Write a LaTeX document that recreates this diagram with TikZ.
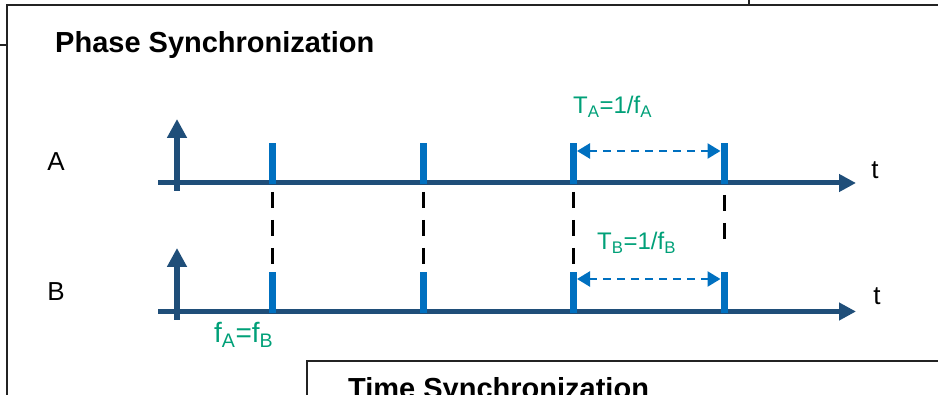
\documentclass[tikz,border=0pt]{standalone}
\usepackage{fontspec}
\setmainfont{Liberation Sans}
\usetikzlibrary{arrows.meta}
\definecolor{axBlue}{RGB}{31,78,121}
\definecolor{pkBlue}{RGB}{0,112,192}
\definecolor{lbGreen}{RGB}{0,160,120}
\definecolor{frGray}{RGB}{35,35,35}
\tikzset{
    frame/.style={draw=frGray, line width=2pt},
    heading/.style={font=\fontsize{29}{34}\selectfont\bfseries, anchor=base west, inner sep=0pt},
    signame/.style={font=\fontsize{26}{30}\selectfont, inner sep=0pt},
    eqn/.style={text=lbGreen, font=\fontsize{24}{28}\selectfont, anchor=base west, inner sep=0pt},
    timeaxis/.style={draw=axBlue, line width=5pt, -{Triangle[length=17pt,width=17pt]}},
    valaxis/.style={draw=axBlue, line width=6pt, -{Triangle[length=19pt,width=19pt]}},
    pulse/.style={draw=pkBlue, line width=7pt},
    period/.style={draw=pkBlue, line width=2.5pt, dash pattern=on 8pt off 6pt,
                   {Triangle[length=13pt,width=15pt]}-{Triangle[length=13pt,width=15pt]}},
    match/.style={draw=black, line width=3pt, dash pattern=on 16pt off 12pt}
}

\begin{document}
\begin{tikzpicture}[x=1pt,y=-1pt]
  \useasboundingbox (0,0) rectangle (938,395);
  \clip (0,0) rectangle (938,395);

  % Frames
  \draw[frame] (749,0) -- (749,5);
  \draw[frame] (938,5) -- (7,5) -- (7,395);
  \draw[frame] (0,45) -- (7,45);
  \draw[frame, line width=2.5pt] (307,395) -- (307,361) -- (938,361);

  % Headings
  \node[heading] (phase) at (55,53) {Phase Synchronization};
  \node[heading] (time) at (348,399) {Time Synchronization};

  % Axes
  \coordinate (oA) at (158,183);  \coordinate (tA) at (856,183);
  \coordinate (oB) at (158,311.5); \coordinate (tB) at (856,311.5);
  \coordinate (vA0) at (177,191); \coordinate (vA1) at (177,119);
  \coordinate (vB0) at (177,320); \coordinate (vB1) at (177,248);
  \draw[timeaxis] (oA) -- (tA);
  \draw[timeaxis] (oB) -- (tB);
  \draw[valaxis] (vA0) -- (vA1);
  \draw[valaxis] (vB0) -- (vB1);

  % Pulses on both signals
  \foreach \x [count=\i] in {272,423,573,724} {
    \coordinate (pA\i) at (\x,143); \coordinate (qA\i) at (\x,184.5);
    \coordinate (pB\i) at (\x,272); \coordinate (qB\i) at (\x,313);
    \draw[pulse] (qA\i) -- (pA\i);
    \draw[pulse] (qB\i) -- (pB\i);
  }

  % Alignment of edges
  \foreach \x [count=\i] in {272,423,573} {
    \coordinate (mT\i) at (\x,192); \coordinate (mB\i) at (\x,264);
    \draw[match] (mT\i) -- (mB\i);
  }
  \coordinate (mT4) at (724,195); \coordinate (mB4) at (724,239);
  \draw[match] (mT4) -- (mB4);

  % Periods
  \coordinate (aL) at (577,151); \coordinate (aR) at (720.5,151);
  \coordinate (bL) at (577,279); \coordinate (bR) at (720.5,279);
  \draw[period] (aL) -- (aR);
  \draw[period] (bL) -- (bR);

  % Labels
  \node[signame] (lA) at (56,162) {A};
  \node[signame] (lB) at (56,292) {B};
  \node[signame] (tlA) at (875,170) {t};
  \node[signame] (tlB) at (877,296) {t};
  \node[eqn] (perA) at (573,114) {T\textsubscript{A}=1/f\textsubscript{A}};
  \node[eqn] (perB) at (597,250) {T\textsubscript{B}=1/f\textsubscript{B}};
  \node[eqn, font=\fontsize{28}{32}\selectfont] (freq) at (214,343) {f\textsubscript{A}=f\textsubscript{B}};
\end{tikzpicture}
\end{document}
